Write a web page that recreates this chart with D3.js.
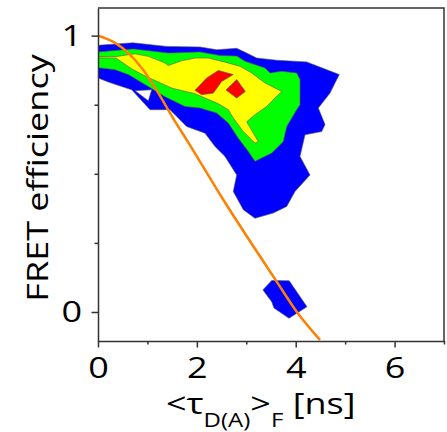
<!DOCTYPE html>
<html>
<head>
<meta charset="utf-8">
<script src="https://cdn.jsdelivr.net/npm/d3@7"></script>
<style>
  body { margin: 0; background: #fff; }
  svg { display: block; }
  .axis text { font-family: "Open Sans", sans-serif; font-size: 30px; fill: #000; }
  .axis path, .axis line { stroke: #333; stroke-width: 1.5; }
  .label { font-family: "Open Sans", sans-serif; font-size: 30px; fill: #000; }
</style>
</head>
<body>
<div id="chart"></div>
<script>
// CONTOUR LEVELS as [tau (ns), E]
var blueContour = [
  [0, 0.965], [0.708, 0.974], [1.390, 0.961], [2.064, 0.959], [2.401, 0.949],
  [2.806, 0.954], [3.008, 0.937], [3.211, 0.919], [3.615, 0.911], [4.222, 0.905],
  [4.882, 0.859], [4.795, 0.829], [4.694, 0.792], [4.457, 0.738], [4.593, 0.678],
  [4.526, 0.653], [4.188, 0.641], [4.087, 0.563], [4.289, 0.496], [3.985, 0.436],
  [3.818, 0.382], [3.546, 0.358], [3.176, 0.339], [2.940, 0.370], [2.737, 0.436],
  [2.806, 0.496], [2.569, 0.563], [2.367, 0.599], [2.165, 0.647], [1.794, 0.671],
  [1.457, 0.732], [1.052, 0.732], [0.682, 0.804], [0.479, 0.816], [0.208, 0.832],
  [0, 0.847]
];
var blueHole = [[0.749, 0.801], [1.086, 0.804], [1.018, 0.764]];
var blueIsland = [
  [3.336, 0.080], [3.514, 0.114], [3.868, 0.113], [4.228, 0.019],
  [3.864, -0.023], [3.561, 0.014], [3.514, 0.037]
];
var greenContour = [
  [0, 0.941], [0.714, 0.952], [1.422, 0.937], [2.064, 0.941], [2.468, 0.928],
  [2.806, 0.926], [2.974, 0.907], [3.378, 0.883], [3.480, 0.865], [3.716, 0.871],
  [4.020, 0.865], [4.087, 0.841], [4.087, 0.750], [4.020, 0.732], [3.818, 0.671],
  [3.749, 0.617], [3.514, 0.575], [3.176, 0.545], [3.041, 0.581], [2.838, 0.629],
  [2.636, 0.684], [2.401, 0.720], [2.064, 0.738], [1.760, 0.744], [1.355, 0.779],
  [1.018, 0.816], [0.613, 0.859], [0.344, 0.877], [0, 0.884]
];
var yellowContour = [
  [0, 0.924], [0.364, 0.924], [0.546, 0.929], [0.749, 0.934], [1.018, 0.925],
  [1.355, 0.901], [1.422, 0.892], [1.693, 0.909], [1.962, 0.919], [2.231, 0.919],
  [2.569, 0.904], [2.873, 0.889], [3.109, 0.865], [3.378, 0.829], [3.716, 0.798],
  [3.581, 0.774], [3.413, 0.744], [3.176, 0.714], [3.008, 0.688], [3.243, 0.617],
  [3.176, 0.611], [2.940, 0.653], [2.737, 0.702], [2.636, 0.732], [2.428, 0.754],
  [1.962, 0.790], [1.497, 0.810], [0.931, 0.856], [0.668, 0.881], [0.364, 0.919],
  [0, 0.920]
];
var redContourA = [
  [1.962, 0.802], [2.199, 0.847], [2.434, 0.874], [2.737, 0.859],
  [2.502, 0.834], [2.333, 0.792], [2.098, 0.786]
];
var redContourB = [[2.806, 0.841], [2.981, 0.798], [2.806, 0.774], [2.590, 0.803]];

// static FRET line
var staticLine = [
  [0, 1.0], [0.345, 0.974], [0.615, 0.937], [0.886, 0.883], [1.156, 0.811],
  [1.562, 0.689], [1.794, 0.623], [2.535, 0.406], [3.615, 0.110], [4.020, 0.001],
  [4.491, -0.101]
];

var xMajor = [0, 2, 4, 6];
var xMinor = [1, 3, 5, 7];
var yMajor = [0, 1];
var yMinor = [0.25, 0.5, 0.75];

var width = 447, height = 432;
var margin = {left: 98, top: 8, right: 3, bottom: 91};
var stretch = 1.2; // the original lettering is wider than Open Sans

var svg = d3.select("#chart").append("svg")
    .attr("width", width)
    .attr("height", height);

var x = d3.scaleLinear().domain([0, 7]).range([margin.left, width - margin.right]);
var y = d3.scaleLinear().domain([-0.105, 1.1]).range([height - margin.bottom, margin.top]);

svg.append("clipPath").attr("id", "plot-clip")
  .append("rect")
    .attr("x", x(0)).attr("y", y(1.1))
    .attr("width", x(7) - x(0)).attr("height", y(-0.105) - y(1.1));

var plot = svg.append("g").attr("clip-path", "url(#plot-clip)");

function ring(pts) {
    return "M" + pts.map(function(p){ return x(p[0]) + "," + y(p[1]); }).join("L") + "Z";
}

var levels = [
    {rings: [blueContour, blueHole], color: "#0000ff"},
    {rings: [blueIsland], color: "#0000ff"},
    {rings: [greenContour], color: "#00ff00"},
    {rings: [yellowContour], color: "#ffff00"},
    {rings: [redContourA], color: "#ff0000"},
    {rings: [redContourB], color: "#ff0000"}
];

plot.selectAll(".level")
    .data(levels)
    .enter()
    .append("path")
    .attr("class", "level")
    .attr("d", function(d){ return d.rings.map(ring).join(""); })
    .attr("fill", function(d){ return d.color; })
    .attr("fill-rule", "evenodd")
    .attr("stroke", "#555")
    .attr("stroke-width", 0.6);

var line = d3.line()
    .x(function(d){ return x(d[0]); })
    .y(function(d){ return y(d[1]); })
    .curve(d3.curveMonotoneX);

plot.append("path")
    .datum(staticLine)
    .attr("d", line)
    .attr("fill", "none")
    .attr("stroke", "#ff8000")
    .attr("stroke-width", 2.5);

// frame
svg.append("path")
    .attr("d", "M" + x(0) + "," + y(1.1) + "H" + x(7) + "V" + y(-0.105))
    .attr("fill", "none")
    .attr("stroke", "#333")
    .attr("stroke-width", 1.5);

// axes
svg.append("g").attr("class", "axis")
    .attr("transform", "translate(0," + y(-0.105) + ")")
    .call(d3.axisBottom(x).tickValues(xMajor).tickFormat(d3.format("d"))
        .tickSize(6.5).tickPadding(9.5).tickSizeOuter(0))
    .selectAll("text")
    .attr("transform", "scale(" + stretch + ",1)");
var xm = svg.append("g").attr("class", "axis")
    .attr("transform", "translate(0," + y(-0.105) + ")")
    .call(d3.axisBottom(x).tickValues(xMinor).tickSize(3.5).tickSizeOuter(0));
xm.select(".domain").remove();
xm.selectAll("text").remove();

svg.append("g").attr("class", "axis")
    .attr("transform", "translate(" + x(0) + ",0)")
    .call(d3.axisLeft(y).tickValues(yMajor).tickFormat(d3.format("d"))
        .tickSize(6.5).tickPadding(9.5).tickSizeOuter(0))
    .selectAll("text")
    .attr("x", -16 / stretch)
    .attr("transform", "scale(" + stretch + ",1)");
var ym = svg.append("g").attr("class", "axis")
    .attr("transform", "translate(" + x(0) + ",0)")
    .call(d3.axisLeft(y).tickValues(yMinor).tickSize(3.5).tickSizeOuter(0));
ym.select(".domain").remove();
ym.selectAll("text").remove();

// axis titles
var xl = svg.append("text").attr("class", "label")
    .attr("transform", "translate(166,414) scale(" + stretch + ",1)")
    .attr("text-anchor", "start");
xl.append("tspan").text("<τ");
xl.append("tspan").attr("font-size", "20px").attr("dy", 13).text("D(A)");
xl.append("tspan").attr("dy", -13).text(">");
xl.append("tspan").attr("font-size", "20px").attr("dy", 13).text("F");
xl.append("tspan").attr("dy", -13).text(" [ns]");

svg.append("text").attr("class", "label")
    .attr("transform", "translate(48,178) rotate(-90) scale(" + stretch + ",1)")
    .attr("text-anchor", "middle")
    .text("FRET efficiency");
</script>
</body>
</html>
